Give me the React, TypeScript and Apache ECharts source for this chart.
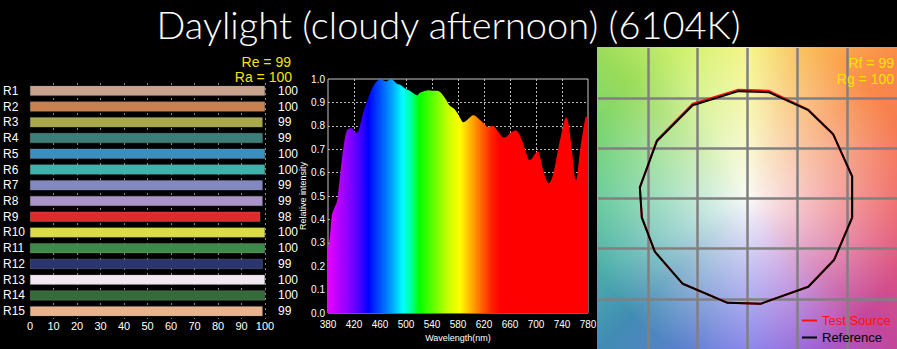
import { useEffect, useRef } from 'react';
import * as echarts from 'echarts';

const TITLE = 'Daylight (cloudy afternoon) (6104K)';

// ---- CRI panel ----
const criLabels = ['R1', 'R2', 'R3', 'R4', 'R5', 'R6', 'R7', 'R8', 'R9', 'R10', 'R11', 'R12', 'R13', 'R14', 'R15'];
const criValues = [100, 100, 99, 99, 100, 100, 99, 99, 98, 100, 100, 99, 100, 100, 99];
const criColors = ['#c9a18f', '#c9824f', '#a9a84a', '#3a7d79', '#3b8fbf', '#3fb3a9', '#8288c0', '#a993c9', '#de2a2a', '#dcdc4a', '#3e8a4a', '#2b3670', '#f2e8f2', '#356a3a', '#e8b48e'];
const criTicks = [0, 10, 20, 30, 40, 50, 60, 70, 80, 90, 100];
const reText = 'Re = 99';
const raText = 'Ra = 100';

// ---- Spectrum panel ----
const wavelengths = [380, 383, 386, 390, 394, 398, 401, 405, 409, 414, 417, 421, 425, 430, 434, 438, 442, 447, 452, 457, 461, 465, 470, 474, 478, 482, 486, 491, 496, 501, 506, 511, 517, 521, 525, 530, 535, 540, 547, 552, 557, 562, 566, 570, 575, 580, 585, 588, 591, 594, 598, 603, 608, 614, 620, 626, 630, 634, 638, 642, 646, 650, 654, 657, 662, 668, 672, 675, 679, 683, 686, 689, 692, 696, 700, 703, 706, 709, 711, 715, 718, 720, 723, 726, 729, 733, 737, 741, 744, 747, 750, 752, 755, 758, 760, 762, 765, 768, 772, 775, 777, 780];
const intensities = [0.27, 0.33, 0.42, 0.45, 0.48, 0.57, 0.65, 0.73, 0.78, 0.79, 0.79, 0.775, 0.77, 0.81, 0.855, 0.89, 0.92, 0.955, 0.98, 0.995, 0.998, 0.995, 0.99, 0.998, 1.0, 0.99, 0.98, 0.975, 0.965, 0.955, 0.95, 0.94, 0.93, 0.94, 0.945, 0.95, 0.952, 0.95, 0.95, 0.945, 0.93, 0.91, 0.89, 0.88, 0.87, 0.85, 0.825, 0.815, 0.818, 0.825, 0.835, 0.845, 0.84, 0.825, 0.81, 0.795, 0.797, 0.8, 0.79, 0.775, 0.76, 0.75, 0.752, 0.76, 0.772, 0.78, 0.775, 0.76, 0.735, 0.7, 0.675, 0.655, 0.655, 0.67, 0.685, 0.69, 0.67, 0.635, 0.61, 0.575, 0.557, 0.555, 0.565, 0.59, 0.625, 0.685, 0.74, 0.79, 0.825, 0.835, 0.81, 0.77, 0.7, 0.62, 0.575, 0.57, 0.625, 0.7, 0.77, 0.82, 0.84, 0.83];
const specXTicks = [380, 420, 460, 500, 540, 580, 620, 660, 700, 740, 780];
const specYTicks = [0, 0.1, 0.2, 0.3, 0.4, 0.5, 0.6, 0.7, 0.8, 0.9, 1.0];

// ---- Colour vector graphic ----
const refX = [1.05, 1.05, 0.86, 0.61, 0.21, -0.09, -0.55, -0.91, -1.08, -1.06, -0.93, -0.65, -0.2, 0.13, 0.61, 0.87];
const refY = [-0.19, 0.22, 0.64, 0.88, 1.06, 1.07, 0.93, 0.57, 0.11, -0.19, -0.53, -0.85, -1.04, -1.05, -0.88, -0.61];
const testX = [1.05, 1.05, 0.86, 0.61, 0.21, -0.09, -0.55, -0.91, -1.08, -1.06, -0.93, -0.65, -0.2, 0.13, 0.61, 0.87];
const testY = [-0.19, 0.22, 0.64, 0.885, 1.075, 1.085, 0.945, 0.58, 0.11, -0.19, -0.53, -0.85, -1.04, -1.05, -0.88, -0.61];
const rfText = 'Rf = 99';
const rgText = 'Rg = 100';

// styling: rainbow stops for spectrum fill
const rainbow: [number, string][] = [
  [380, '#e600ff'], [405, '#a000ff'], [425, '#5a00ff'], [442, '#0000ff'], [460, '#0050ff'],
  [478, '#00a0ff'], [495, '#00ffff'], [508, '#00ff9a'], [520, '#00ff00'], [545, '#6eff00'],
  [565, '#c8ff00'], [583, '#ffff00'], [600, '#ffb000'], [615, '#ff6a00'], [632, '#ff2000'],
  [645, '#ff0000'], [780, '#ff0000'],
];

// styling: hue ring for CVG background
const hueStops: [number, number[]][] = [
  [0, [240, 100, 100]], [45, [250, 140, 70]], [70, [250, 190, 90]], [90, [245, 245, 130]],
  [115, [205, 240, 110]], [135, [155, 220, 90]], [160, [115, 210, 120]], [180, [95, 200, 150]],
  [205, [75, 175, 170]], [225, [65, 140, 180]], [250, [95, 125, 210]], [270, [130, 125, 235]],
  [295, [160, 95, 210]], [315, [195, 70, 155]], [340, [225, 85, 125]], [360, [240, 100, 100]],
];

function makeBackground(w: number, h: number, cx: number, cy: number): string {
  const c = document.createElement('canvas');
  c.width = w; c.height = h;
  const ctx = c.getContext('2d');
  if (!ctx) return '';
  const img = ctx.createImageData(w, h);
  for (let y = 0; y < h; y++) {
    for (let x = 0; x < w; x++) {
      const dx = x - cx, dy = cy - y;
      let a = (Math.atan2(dy, dx) * 180) / Math.PI;
      if (a < 0) a += 360;
      let k = 0;
      while (k < hueStops.length - 2 && hueStops[k + 1][0] < a) k++;
      const [a0, c0] = hueStops[k];
      const [a1, c1] = hueStops[k + 1];
      const f = (a - a0) / (a1 - a0);
      const r = Math.sqrt(dx * dx + dy * dy);
      const t = Math.pow(Math.min(1, r / 165), 0.9);
      const idx = (y * w + x) * 4;
      for (let j = 0; j < 3; j++) {
        const hc = c0[j] + (c1[j] - c0[j]) * f;
        img.data[idx + j] = Math.round(250 + (hc - 250) * t);
      }
      img.data[idx + 3] = 255;
    }
  }
  ctx.putImageData(img, 0, 0);
  return c.toDataURL();
}

export default function App() {
  const ref = useRef<HTMLDivElement>(null);
  useEffect(() => {
    document.body.style.margin = '0';
    const chart = echarts.init(ref.current!, null, { renderer: 'svg' });
    const bg = makeBackground(300, 302, 151, 152);
    const gradStops = rainbow.map(([wl, col]) => ({ offset: (wl - 380) / 400, color: col }));
    const yellow = '#f5e400';
    const legendBase = {
      orient: 'horizontal', left: 802, itemWidth: 15, itemHeight: 2, icon: 'rect',
      textStyle: { fontSize: 13, fontFamily: 'Liberation Sans' }, padding: 0,
    };
    chart.setOption({
      animation: false,
      backgroundColor: '#000',
      title: {
        text: TITLE,
        left: 'center',
        top: 0,
        textStyle: { color: '#fff', fontSize: 38, fontWeight: 300, fontFamily: 'Lato' },
      },
      legend: [
        { ...legendBase, top: 314, data: [{ name: 'Test Source', textStyle: { color: '#ff1010' } }] },
        { ...legendBase, top: 331, data: [{ name: 'Reference', textStyle: { color: '#000' } }] },
      ],
      graphic: [
        { type: 'image', x: 597, y: 47, z: -10, style: { image: bg, x: 0, y: 0, width: 300, height: 302 } },
        { type: 'text', x: 291, y: 62, style: { text: reText, fill: yellow, fontSize: 14, fontFamily: 'Liberation Sans', align: 'right', verticalAlign: 'middle' } },
        { type: 'text', x: 292, y: 77, style: { text: raText, fill: yellow, fontSize: 14, fontFamily: 'Liberation Sans', align: 'right', verticalAlign: 'middle' } },
        { type: 'text', x: 894, y: 63, z: 10, style: { text: rfText, fill: yellow, fontSize: 14, fontFamily: 'Liberation Sans', align: 'right', verticalAlign: 'middle' } },
        { type: 'text', x: 894, y: 79, z: 10, style: { text: rgText, fill: yellow, fontSize: 14, fontFamily: 'Liberation Sans', align: 'right', verticalAlign: 'middle' } },
      ],
      grid: [
        { left: 30, top: 83, width: 235, height: 236 },
        { left: 328, top: 79, width: 260, height: 234, show: true, borderColor: '#c8c8c8', borderWidth: 1, backgroundColor: '#000' },
        { left: 598, top: 48, width: 300, height: 301 },
      ],
      xAxis: [
        {
          gridIndex: 0, type: 'value', min: 0, max: 100, interval: 10,
          axisLine: { show: false }, axisTick: { show: false },
          axisLabel: { color: '#fff', fontSize: 11, margin: 1, fontFamily: 'Liberation Sans', formatter: (v: number) => (criTicks.includes(v) ? String(v) : '') },
          splitLine: { show: true, showMinLine: false, lineStyle: { color: '#8a8a8a', type: [2, 3], width: 1 } },
        },
        {
          gridIndex: 1, type: 'value', min: 380, max: 780, interval: 40,
          name: 'Wavelength(nm)', nameLocation: 'middle', nameGap: 19,
          nameTextStyle: { color: '#fff', fontSize: 9, fontFamily: 'Liberation Sans' },
          axisLine: { show: false }, axisTick: { show: false },
          axisLabel: { color: '#fff', fontSize: 10, margin: 6, fontFamily: 'Liberation Sans', formatter: (v: number) => (specXTicks.includes(v) ? String(v) : '') },
          splitLine: { show: true, showMinLine: false, showMaxLine: false, lineStyle: { color: '#bbb', type: [2, 2], width: 1 } },
        },
        {
          gridIndex: 2, type: 'value', min: -1.5, max: 1.5, interval: 0.5,
          axisLine: { show: false }, axisTick: { show: false }, axisLabel: { show: false },
          splitLine: { show: true, showMinLine: false, showMaxLine: false, lineStyle: { color: '#808080', width: 2.5 } },
        },
      ],
      yAxis: [
        {
          gridIndex: 0, type: 'category', data: criLabels, inverse: true,
          axisLine: { show: false }, axisTick: { show: false },
          axisLabel: { color: '#fff', fontSize: 12, margin: 27, align: 'left', fontFamily: 'Liberation Sans' },
        },
        {
          gridIndex: 0, type: 'category', data: criValues.map(String), inverse: true, position: 'right',
          axisLine: { show: false }, axisTick: { show: false },
          axisLabel: { color: '#fff', fontSize: 12, margin: 13, align: 'left', fontFamily: 'Liberation Sans' },
        },
        {
          gridIndex: 1, type: 'value', min: 0, max: 1, interval: 0.1,
          name: 'Relative intensity', nameLocation: 'middle', nameGap: 17, nameRotate: 90,
          nameTextStyle: { color: '#fff', fontSize: 9, fontFamily: 'Liberation Sans' },
          axisLine: { show: false }, axisTick: { show: false },
          axisLabel: { color: '#fff', fontSize: 10, margin: 3, fontFamily: 'Liberation Sans', formatter: (v: number) => (specYTicks.some((t) => Math.abs(t - v) < 1e-6) ? v.toFixed(1) : '') },
          splitLine: { show: true, showMinLine: false, showMaxLine: false, lineStyle: { color: '#bbb', type: [2, 2], width: 1 } },
        },
        {
          gridIndex: 2, type: 'value', min: -1.5, max: 1.5, interval: 0.5,
          axisLine: { show: false }, axisTick: { show: false }, axisLabel: { show: false },
          splitLine: { show: true, showMinLine: false, showMaxLine: false, lineStyle: { color: '#808080', width: 2.5 } },
        },
      ],
      series: [
        {
          type: 'bar', xAxisIndex: 0, yAxisIndex: 0, barWidth: 10,
          data: criValues.map((v, i) => ({ value: v, itemStyle: { color: criColors[i], borderColor: 'rgba(150,150,150,0.6)', borderWidth: 0.5 } })),
        },
        {
          type: 'line', xAxisIndex: 1, yAxisIndex: 2, smooth: 0.3, symbol: 'none',
          lineStyle: { width: 0 },
          areaStyle: { opacity: 1, color: new echarts.graphic.LinearGradient(0, 0, 1, 0, gradStops) },
          data: wavelengths.map((w, i) => [w, intensities[i]]),
        },
        {
          name: 'Test Source', type: 'line', xAxisIndex: 2, yAxisIndex: 3, symbol: 'none',
          lineStyle: { color: '#ff1010', width: 2 }, itemStyle: { color: '#ff1010' },
          data: [...testX, testX[0]].map((x, i) => [x, [...testY, testY[0]][i]]),
        },
        {
          name: 'Reference', type: 'line', xAxisIndex: 2, yAxisIndex: 3, symbol: 'none',
          lineStyle: { color: '#000', width: 2 }, itemStyle: { color: '#000' },
          data: [...refX, refX[0]].map((x, i) => [x, [...refY, refY[0]][i]]),
        },
      ],
    });
    return () => chart.dispose();
  }, []);
  return <div ref={ref} style={{ position: 'fixed', left: 0, top: 0, width: 897, height: 349 }} />;
}
